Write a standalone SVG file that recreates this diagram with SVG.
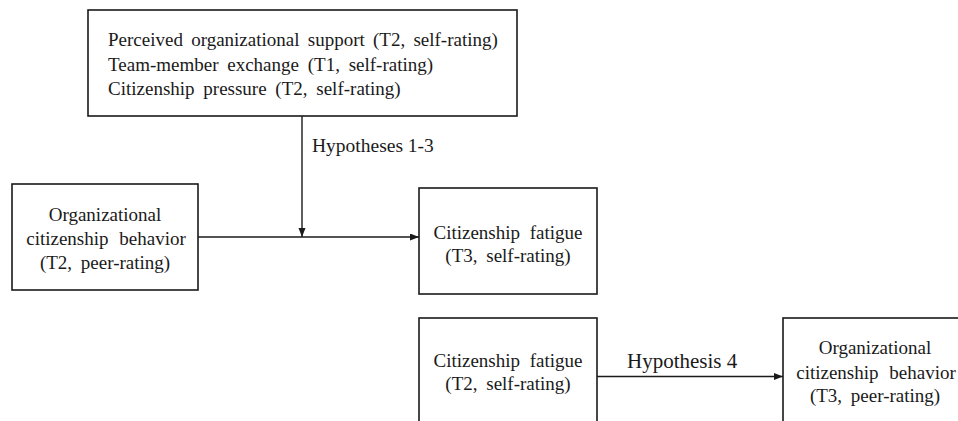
<svg xmlns="http://www.w3.org/2000/svg" width="958" height="421" viewBox="0 0 958 421">
  <style>
    .box { fill: #ffffff; stroke: #1a1a1a; stroke-width: 1.6; }
    .t { font-family: "Liberation Serif", "Times New Roman", serif; font-size: 19px; fill: #1a1a1a; word-spacing: 4px; }
    .c { text-anchor: middle; }
    .edge { stroke: #1a1a1a; stroke-width: 1.4; fill: none; marker-end: url(#arrow); }
  </style>
  <defs>
    <marker id="arrow" markerUnits="userSpaceOnUse" markerWidth="10" markerHeight="8" refX="9" refY="3.5" orient="auto">
      <path d="M0,0 L9,3.5 L0,7 z" fill="#1a1a1a"/>
    </marker>
  </defs>
  <rect width="958" height="421" fill="#ffffff"/>

  <g id="moderators">
    <rect class="box" x="88" y="10" width="429" height="106"/>
    <text class="t" x="108" y="46" style="word-spacing:3.5px">Perceived organizational support (T2, self-rating)</text>
    <text class="t" x="108" y="70.5">Team-member exchange (T1, self-rating)</text>
    <text class="t" x="108" y="95">Citizenship pressure (T2, self-rating)</text>
  </g>

  <g id="ocb-t2">
    <rect class="box" x="12" y="184" width="186" height="106"/>
    <text class="t c" x="105" y="220.5">Organizational</text>
    <text class="t c" x="106" y="244.5" style="word-spacing:6px">citizenship behavior</text>
    <text class="t c" x="105" y="268.5">(T2, peer-rating)</text>
  </g>

  <g id="fatigue-t3">
    <rect class="box" x="419" y="188" width="178" height="106"/>
    <text class="t c" x="508" y="238.5" style="word-spacing:5px">Citizenship fatigue</text>
    <text class="t c" x="508" y="262">(T3, self-rating)</text>
  </g>

  <g id="fatigue-t2">
    <rect class="box" x="419" y="318" width="178" height="110"/>
    <text class="t c" x="508" y="366.5" style="word-spacing:5px">Citizenship fatigue</text>
    <text class="t c" x="508" y="390">(T2, self-rating)</text>
  </g>

  <g id="ocb-t3">
    <rect class="box" x="783" y="318" width="186" height="110"/>
    <text class="t c" x="875" y="354">Organizational</text>
    <text class="t c" x="876" y="379" style="word-spacing:6px">citizenship behavior</text>
    <text class="t c" x="875" y="402">(T3, peer-rating)</text>
  </g>

  <g id="connectors">
    <line class="edge" x1="302" y1="116" x2="302" y2="237"/>
    <line class="edge" x1="198" y1="237" x2="419" y2="237"/>
    <line class="edge" x1="597" y1="376.5" x2="783" y2="376.5"/>
    <text class="t" x="312" y="151.5" style="font-size:19.5px;word-spacing:0">Hypotheses 1-3</text>
    <text class="t" x="627" y="367.5" style="font-size:21px;word-spacing:0">Hypothesis 4</text>
  </g>
</svg>
